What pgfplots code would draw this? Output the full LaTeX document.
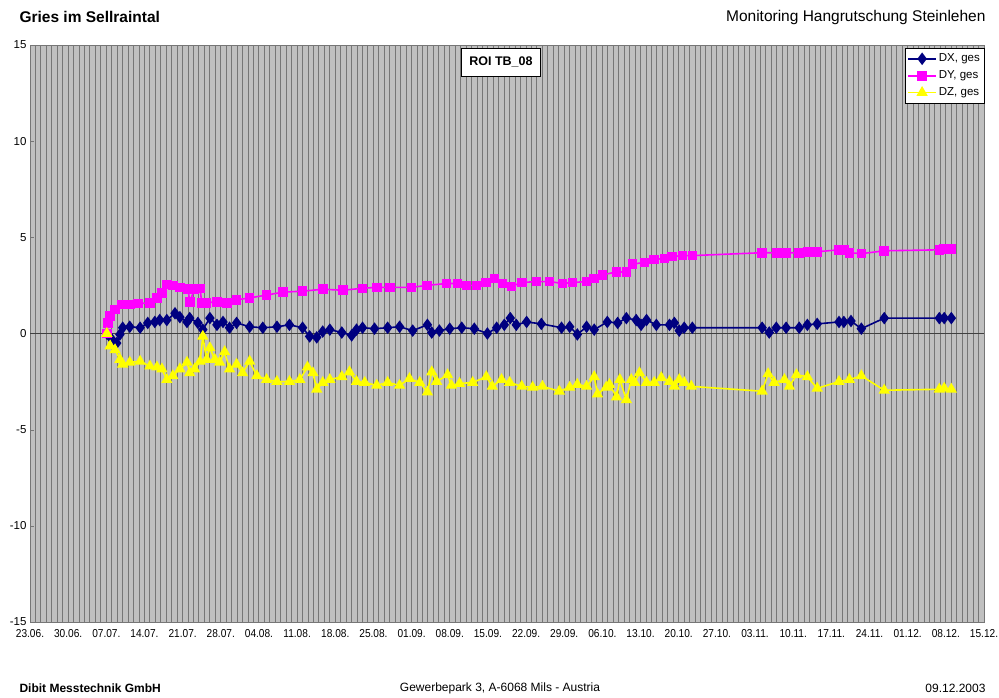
\documentclass[border=0pt]{standalone}
\usepackage{pgfplots}
\pgfplotsset{compat=1.18}
\usepackage{fontspec}
\setmainfont{Liberation Sans}
\newfontfamily\narrowfont[FakeStretch=0.88]{Liberation Sans}
\definecolor{bg}{RGB}{192,192,192}
\definecolor{gl}{RGB}{118,118,118}
\definecolor{dxc}{RGB}{0,0,128}
\definecolor{dyc}{RGB}{255,0,255}
\definecolor{dzc}{RGB}{255,255,0}
\begin{document}
\begin{tikzpicture}[x=1pt,y=1pt]
\path[use as bounding box] (0,0) rectangle (999,697);
\begin{axis}[at={(30pt,75pt)}, anchor=south west, width=954pt, height=577pt, scale only axis,
 xmin=0, xmax=175, ymin=-15, ymax=15,
 xtick={0,7,...,175},
 xticklabels={23.06.,30.06.,07.07.,14.07.,21.07.,28.07.,04.08.,11.08.,18.08.,25.08.,01.09.,08.09.,15.09.,22.09.,29.09.,06.10.,13.10.,20.10.,27.10.,03.11.,10.11.,17.11.,24.11.,01.12.,08.12.,15.12.},
 minor x tick num=6,
 xmajorgrids, xminorgrids,
 major grid style={gl, line width=1pt},
 minor grid style={gl, line width=1pt},
 x tick style={draw=none},
 ytick={-15,-10,...,15},
 y tick style={gl},
 major tick length=4pt,
 tick pos=left,
 axis background/.style={fill=bg},
 axis line style={gl, line width=0.8pt},
 y tick label style={font=\fontsize{11.5}{13}\selectfont},
 x tick label style={font=\narrowfont\fontsize{11.5}{13}\selectfont, yshift=-4pt},
 /pgf/number format/assume math mode=true,
 legend style={at={(1,0.995)}, anchor=north east, draw=black, fill=white,
   font=\fontsize{11.5}{13}\selectfont, row sep=3.5pt, inner xsep=2pt, inner ysep=4pt, cells={anchor=west}},
 legend image code/.code={\draw[mark repeat=2,mark phase=2,#1] plot coordinates {(0pt,0pt)(14pt,0pt)(28pt,0pt)};},
]
\draw[black!75, line width=0.8pt] (axis cs:0,0) -- (axis cs:175,0);
\addplot[dxc, line width=1.6pt, mark=diamond*, mark size=5pt, mark options={solid, fill=dxc}] coordinates {
(14.1,0.0)(15.0,-0.3)(15.9,-0.5)(16.5,-0.05)(17.0,0.3)(18.3,0.35)(20.2,0.3)(21.6,0.55)(22.9,0.6)(23.8,0.7)
(25.1,0.7)(26.6,1.05)(27.5,0.85)(28.8,0.6)(29.3,0.8)(30.8,0.55)(31.7,0.2)(33.0,0.8)(34.3,0.45)(35.4,0.6)
(36.6,0.3)(37.9,0.55)(40.3,0.35)(42.7,0.3)(45.3,0.35)(47.6,0.45)(50.0,0.3)(51.3,-0.15)(52.6,-0.2)(53.7,0.1)
(55.0,0.2)(57.2,0.05)(59.0,-0.1)(59.9,0.2)(61.0,0.3)(63.2,0.25)(65.6,0.3)(67.8,0.35)(70.2,0.15)(72.9,0.45)
(73.7,0.05)(75.1,0.15)(77.0,0.25)(79.2,0.3)(81.5,0.25)(83.9,0.0)(85.6,0.3)(87.0,0.45)(88.1,0.8)(89.2,0.45)
(91.1,0.6)(93.8,0.5)(97.5,0.3)(99.0,0.35)(100.4,-0.05)(102.1,0.35)(103.5,0.2)(105.9,0.6)(107.8,0.55)(109.4,0.8)
(111.2,0.7)(112.1,0.45)(113.1,0.7)(114.9,0.45)(117.3,0.45)(118.2,0.55)(119.1,0.15)(120.0,0.3)(121.5,0.3)
(134.3,0.3)(135.6,0.05)(136.9,0.3)(138.7,0.3)(141.1,0.3)(142.6,0.45)(144.4,0.5)(148.4,0.6)(149.3,0.6)(150.6,0.65)
(152.5,0.25)(156.7,0.8)(166.8,0.8)(167.7,0.8)(169.0,0.8)};
\addlegendentry{DX, ges}
\addplot[dyc, line width=1.6pt, mark=square*, mark size=4pt, mark options={solid, fill=dyc}] coordinates {
(14.1,0.0)(14.3,0.55)(14.7,0.9)(15.6,1.25)(16.9,1.5)(18.3,1.5)(19.8,1.55)(22.0,1.6)(23.3,1.85)(24.2,2.1)
(25.1,2.55)(26.2,2.5)(27.5,2.4)(29.0,2.3)(29.3,1.65)(30.2,2.3)(31.2,2.35)(31.5,1.6)(32.4,1.6)(34.3,1.65)
(36.1,1.6)(37.9,1.75)(40.3,1.85)(43.4,2.0)(46.4,2.15)(50.0,2.2)(53.7,2.3)(57.4,2.25)(61.0,2.35)(63.6,2.4)
(66.0,2.4)(70.0,2.4)(72.8,2.5)(76.4,2.6)(78.4,2.6)(80.1,2.5)(81.9,2.5)(83.7,2.65)(85.2,2.85)(86.7,2.6)
(88.3,2.45)(90.2,2.65)(92.9,2.7)(95.3,2.7)(97.7,2.6)(99.5,2.65)(102.1,2.7)(103.5,2.85)(105.0,3.05)(107.6,3.2)
(109.4,3.2)(110.5,3.6)(112.7,3.7)(114.5,3.85)(116.4,3.9)(117.8,4.0)(119.7,4.05)(121.5,4.05)
(134.3,4.2)(136.9,4.2)(138.7,4.2)(141.1,4.2)(142.6,4.25)(144.4,4.25)(148.4,4.35)(149.3,4.35)(150.3,4.2)
(152.5,4.15)(156.7,4.3)(166.8,4.35)(167.7,4.4)(169.0,4.4)};
\addlegendentry{DY, ges}
\addplot[dzc, line width=1.6pt, mark=triangle*, mark size=5pt, mark options={solid, fill=dzc}] coordinates {
(14.1,0.0)(14.7,-0.65)(15.6,-0.85)(16.5,-1.35)(17.0,-1.6)(18.3,-1.5)(20.2,-1.45)(22.0,-1.7)(23.3,-1.75)(24.2,-1.85)
(25.1,-2.4)(26.2,-2.2)(27.5,-1.85)(28.8,-1.5)(29.3,-2.05)(30.2,-1.85)(31.2,-1.45)(31.7,-0.15)(32.4,-1.35)(33.0,-0.75)
(33.9,-1.35)(34.8,-1.5)(35.7,-0.95)(36.6,-1.85)(37.9,-1.6)(39.0,-2.05)(40.3,-1.45)(41.6,-2.2)(43.4,-2.4)(45.3,-2.5)
(47.6,-2.5)(49.5,-2.4)(50.9,-1.75)(51.9,-2.05)(52.6,-2.9)(53.7,-2.55)(55.0,-2.4)(57.2,-2.25)(58.6,-2.0)(59.9,-2.5)
(61.4,-2.55)(63.6,-2.7)(65.6,-2.55)(67.8,-2.7)(69.6,-2.35)(71.5,-2.55)(72.9,-3.05)(73.7,-2.0)(74.6,-2.5)(76.6,-2.15)
(77.3,-2.7)(78.8,-2.6)(81.2,-2.55)(83.7,-2.25)(84.8,-2.75)(86.5,-2.4)(88.0,-2.55)(90.2,-2.75)(92.2,-2.8)(94.0,-2.75)
(97.1,-3.0)(99.0,-2.8)(100.4,-2.65)(102.1,-2.75)(103.5,-2.25)(104.1,-3.15)(105.7,-2.8)(106.3,-2.65)(107.6,-3.3)(108.2,-2.4)
(109.4,-3.45)(110.3,-2.4)(110.9,-2.55)(111.8,-2.05)(113.1,-2.55)(114.5,-2.55)(115.8,-2.3)(117.3,-2.5)(118.2,-2.75)(119.1,-2.4)
(120.0,-2.55)(121.3,-2.75)(134.3,-3.0)(135.4,-2.1)(136.5,-2.55)(138.4,-2.4)(139.3,-2.75)(140.6,-2.15)(142.6,-2.25)(144.4,-2.85)
(148.4,-2.5)(150.3,-2.4)(152.5,-2.2)(156.7,-2.95)(166.8,-2.9)(167.7,-2.85)(169.0,-2.9)};
\addlegendentry{DZ, ges}
\end{axis}
\node[draw=black, fill=white, font=\bfseries\fontsize{12.5}{14}\selectfont, inner sep=0pt, minimum width=79pt, minimum height=28pt] at (501,635) {ROI TB\_08};
\node[anchor=west, font=\bfseries\fontsize{15.5}{17}\selectfont] at (16,680) {Gries im Sellraintal};
\node[anchor=east, font=\fontsize{15.5}{17}\selectfont] at (989,680) {Monitoring Hangrutschung Steinlehen};
\node[anchor=west, font=\bfseries\fontsize{12}{14}\selectfont] at (16,9) {Dibit Messtechnik GmbH};
\node[font=\fontsize{12}{14}\selectfont] at (500,9) {Gewerbepark 3, A-6068 Mils - Austria};
\node[anchor=east, font=\fontsize{12}{14}\selectfont] at (989,9) {09.12.2003};
\end{tikzpicture}
\end{document}
